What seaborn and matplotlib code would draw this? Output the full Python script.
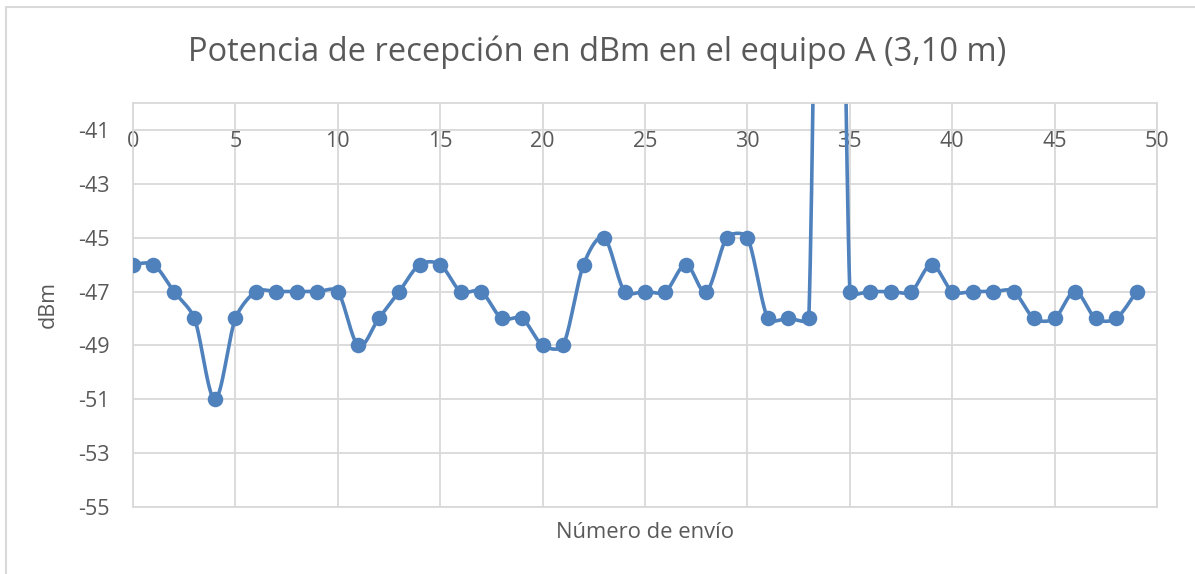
import matplotlib
matplotlib.use("Agg")
import matplotlib.pyplot as plt
import seaborn as sns
import numpy as np
import pandas as pd

# numero de envio y potencia recibida (dBm)
envios = list(range(50))
potencia = [-46, -46, -47, -48, -51, -48, -47, -47, -47, -47,
            -47, -49, -48, -47, -46, -46, -47, -47, -48, -48,
            -49, -49, -46, -45, -47, -47, -47, -46, -47, -45,
            -45, -48, -48, -48, 0, -47, -47, -47, -47, -46,
            -47, -47, -47, -47, -48, -48, -47, -48, -48, -47]
yticks = [-55, -53, -51, -49, -47, -45, -43, -41]
xticks = [0, 5, 10, 15, 20, 25, 30, 35, 40, 45, 50]

gris = "#595959"
azul = "#4F81BD"


def suavizar(x, y, n=30, sx=20.48, sy=26.7):
    # curva suavizada parecida a la de Excel (catmull-rom con tangentes limitadas)
    p = np.column_stack([np.asarray(x, float) * sx, np.asarray(y, float) * sy])
    p = np.vstack([p[0], p, p[-1]])
    t = np.linspace(0, 1, n, endpoint=False)[:, None]
    out = []
    for i in range(1, len(p) - 2):
        p0, p3 = p[i], p[i + 1]
        lim = np.linalg.norm(p3 - p0) / 3
        d0 = (p[i + 1] - p[i - 1]) / 6
        d1 = (p[i + 2] - p[i]) / 6
        n0, n1 = np.linalg.norm(d0), np.linalg.norm(d1)
        if n0 > lim:
            d0 = d0 * lim / n0
        if n1 > lim:
            d1 = d1 * lim / n1
        p1 = p0 + d0
        p2 = p3 - d1
        b = (1 - t) ** 3 * p0 + 3 * (1 - t) ** 2 * t * p1 \
            + 3 * (1 - t) * t ** 2 * p2 + t ** 3 * p3
        out.append(b)
    out.append(p[-1][None, :])
    b = np.vstack(out)
    return pd.DataFrame({"x": b[:, 0] / sx, "y": b[:, 1] / sy})


df = pd.DataFrame({"envio": envios, "dBm": potencia})
curva = suavizar(envios, potencia)

sns.set_style("white")
plt.rcParams["font.family"] = ["Open Sans", "DejaVu Sans"]
plt.rcParams["axes.unicode_minus"] = False

fig = plt.figure(figsize=(11.95, 5.74), dpi=100)
ax = fig.add_axes([0.1113, 0.1167, 0.8569, 0.7039])

sns.lineplot(data=curva, x="x", y="y", ax=ax, color=azul, lw=2.6, sort=False)
sns.scatterplot(data=df, x="envio", y="dBm", ax=ax, color=azul, s=125,
                edgecolor=azul, linewidth=0, zorder=3)

ax.set_xlim(0, 50)
ax.set_ylim(-55, -40)
ax.set_yticks(yticks)
ax.set_xticks(xticks)
ax.grid(True, color="#D9D9D9", lw=1.3)
ax.set_axisbelow(True)
for s in ax.spines.values():
    s.set_color("#D9D9D9")
    s.set_linewidth(1.3)

ax.tick_params(axis="y", length=0, pad=17, labelsize=15.5, labelcolor=gris)
ax.tick_params(axis="x", length=0, top=True, labeltop=True, bottom=False,
               labelbottom=False, pad=-35, labelsize=15.5, labelcolor=gris)

ax.set_xlabel("Número de envío", fontsize=15.8, color=gris, labelpad=11)
ax.set_ylabel("dBm", fontsize=15.5, color=gris, labelpad=14)
fig.text(0.5, 0.909, "Potencia de recepción en dBm en el equipo A (3,10 m)",
         ha="center", va="center", fontsize=23.5, color=gris)

# borde exterior del grafico
fig.patches.append(plt.Rectangle((6 / 1195, -0.1), 1.2, 1 - 7 / 574 + 0.1,
                                 transform=fig.transFigure, fill=False,
                                 edgecolor="#D9D9D9", lw=1.5))

fig.savefig("out.png", dpi=100)
